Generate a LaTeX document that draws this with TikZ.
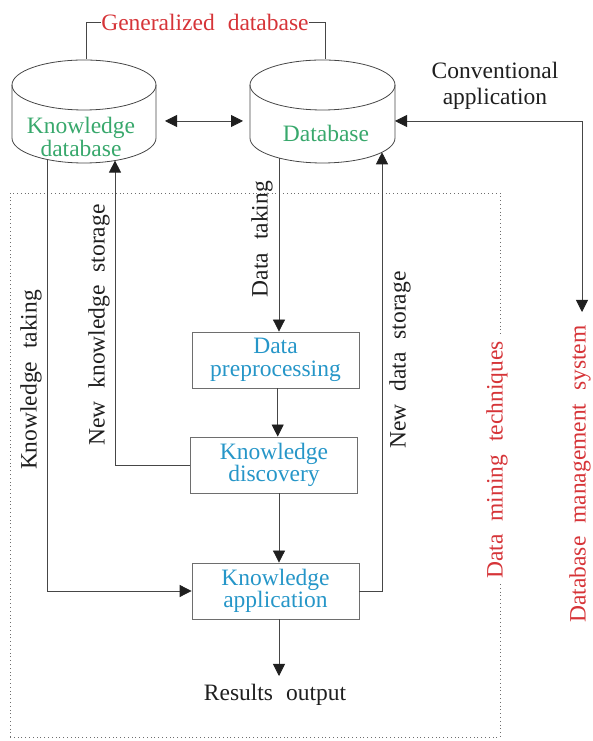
\documentclass[tikz,border=0pt]{standalone}
\usepackage{fontspec}
\setmainfont{Liberation Serif}[WordSpace=2.2]
\usetikzlibrary{arrows.meta}
\definecolor{cred}{RGB}{214,52,56}
\definecolor{cgreen}{RGB}{56,168,108}
\definecolor{cblue}{RGB}{38,150,200}
\definecolor{cline}{RGB}{70,70,70}
\definecolor{cbox}{RGB}{110,110,110}
\begin{document}
\begin{tikzpicture}[x=1pt,y=1pt,
  font=\fontsize{23.5}{21}\selectfont,
  conn/.style={draw=cline, line width=0.8pt},
  arr/.style={conn, -{Triangle[length=12pt,width=12pt,color=black!88]}},
  darr/.style={conn, {Triangle[length=12pt,width=12pt,color=black!88]}-{Triangle[length=12pt,width=12pt,color=black!88]}},
  cyl/.style={draw=cline, line width=0.8pt},
  geom/.style={draw=none, inner sep=0pt},
  procbox/.style={draw=cbox, line width=0.8pt, minimum width=167pt, minimum height=56pt, text=cblue, align=center, inner sep=0pt},
  lab/.style={rotate=90, inner sep=0pt, text=black!88},
  redlab/.style={rotate=90, inner sep=0pt, text=cred},
]
\useasboundingbox (0,0) rectangle (592,741);

% dotted frame
\draw[cbox, line width=0.8pt, dash pattern=on 0.8pt off 3pt] (10,4) rectangle (500,548);

% cylinders
\node[geom, minimum width=144pt, minimum height=104pt] (kdb) at (84,630) {};
\node[geom, minimum width=145pt, minimum height=104pt] (db) at (322.5,630) {};
\draw[cyl] (12,656) -- (12,603) arc[start angle=180,end angle=360,x radius=72,y radius=25] -- (156,656);
\draw[cyl] (84,656) ellipse[x radius=72,y radius=25];
\draw[cyl] (250,656) -- (250,603) arc[start angle=180,end angle=360,x radius=72.5,y radius=25] -- (395,656);
\draw[cyl] (322.5,656) ellipse[x radius=72.5,y radius=25];
\node[align=center, text=cgreen, inner sep=0pt] (kdbtext) at (81,604) {Knowledge\\database};
\node[text=cgreen, inner sep=0pt] (dbtext) at (326,608) {Database};

% generalized database bracket
\node[text=cred, inner sep=0pt] (gen) at (205,719) {Generalized database};
\draw[conn] (86,682) |- (gen.west);
\draw[conn] (gen.east) -| (325,682);

% coordinates on cylinders
\coordinate (kdbR) at (165,620);
\coordinate (dbL) at (243,620);
\coordinate (dbR) at (395,620);
\coordinate (kdbA) at (47,581.6);
\coordinate (kdbB) at (115,580.4);
\coordinate (dbA) at (279,583);
\coordinate (dbB) at (382,588.7);
\coordinate (dbms) at (582,429);

\draw[darr] (kdbR) -- (dbL);
\draw[darr] (dbms) |- (dbR);
\node[align=center, inner sep=0pt, text=black!88] (conv) at (495,655) {Conventional\\[5pt]application};

% process boxes
\node[procbox] (prep) at (275.5,381) {Data\\[1.5pt]preprocessing};
\node[procbox] (kdisc) at (274,276) {Knowledge\\discovery};
\node[procbox] (kapp) at (275.5,150) {Knowledge\\application};
\node[inner sep=0pt, text=black!88] (res) at (275,46) {Results output};

\draw[arr] (dbA) -- (dbA |- prep.north);
\draw[arr] (prep.south -| 277.7,0) -- (277.7,0 |- kdisc.north);
\draw[arr] (kdisc.south -| 279,0) -- (279,0 |- kapp.north);
\draw[arr] (kapp.south -| 279,0) -- (279,65);
\draw[arr] (kdbA) |- (kapp.west);
\draw[arr] (kdisc.west) -| (kdbB);
\draw[arr] (kapp.east) -| (dbB);

% rotated labels
\node[lab] (lkt) at (31,361) {Knowledge taking};
\node[lab] (lnks) at (99,416) {New knowledge storage};
\node[lab] (ldt) at (262,502) {Data taking};
\node[lab] (lnds) at (400,381) {New data storage};
\node[redlab, fill=white, inner xsep=4pt] (ldmt) at (497,281) {Data mining techniques};
\node[redlab] (ldbms) at (580,267) {Database management system};
\end{tikzpicture}
\end{document}
